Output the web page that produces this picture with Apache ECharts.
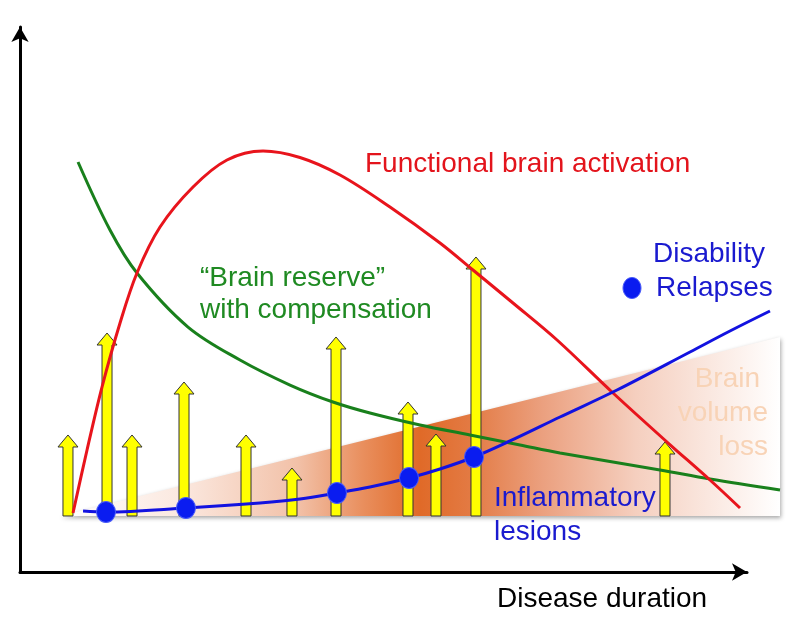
<!DOCTYPE html>
<html>
<head>
<meta charset="utf-8">
<style>
  html, body { margin: 0; padding: 0; background: #ffffff; }
  #chart { width: 786px; height: 617px; }
</style>
<script src="https://cdn.jsdelivr.net/npm/echarts@6/dist/echarts.min.js"></script>
</head>
<body>
<div id="chart"></div>
<script>
// ---- Data (conceptual units: x = disease duration 0..100, y = level 0..100) ----
const functionalActivation = [
  [7.29, 10.83], [9.22, 22.39], [11.28, 33.94], [13.76, 45.69], [16.09, 54.86],
  [19.26, 63.30], [23.80, 70.64], [28.47, 75.60], [33.43, 77.25], [38.51, 76.06],
  [44.02, 72.84], [50.89, 66.97], [57.77, 60.37], [62.31, 55.41], [67.81, 49.36],
  [73.87, 42.57], [81.57, 32.84], [89.00, 23.85], [94.91, 16.88], [99.04, 11.74]
];
const brainReserve = [
  [7.98, 75.23], [12.38, 62.75], [16.09, 54.86], [23.11, 44.95], [30.26, 38.90],
  [37.14, 34.31], [43.05, 31.19], [48.14, 29.17], [55.02, 26.97], [61.90, 25.14],
  [68.78, 23.30], [74.28, 21.83], [88.03, 18.72], [94.91, 17.06], [104.54, 15.05]
];
const disability = [
  [8.67, 11.19], [11.83, 11.01], [22.83, 11.74], [33.01, 12.66], [38.51, 13.39],
  [43.60, 14.50], [48.14, 15.60], [53.51, 17.25], [57.77, 18.90], [62.45, 21.10],
  [67.40, 24.04], [74.28, 28.44], [82.12, 33.39], [92.16, 40.37], [97.66, 44.22],
  [103.16, 47.89]
];
const relapses = [
  [11.83, 11.01], [22.83, 11.74], [43.60, 14.50], [53.51, 17.25], [62.45, 21.10]
];
const lesionBase = 10.28;
const lesionX   = [6.60, 11.97, 15.41, 22.56, 31.09, 37.41, 43.47, 53.37, 57.22, 62.72, 88.72];
const lesionTop = [25.14, 43.85, 25.14, 34.86, 25.14, 19.08, 43.12, 31.19, 25.32, 57.80, 23.85];
const volumeLossX = [5.50, 104.54, 104.54];
const volumeLossY = [10.28, 43.12, 10.28];

const FONT = '"Liberation Sans", Arial, Helvetica, sans-serif';

const chart = echarts.init(document.getElementById('chart'), null, { renderer: 'canvas' });

const lesionData = lesionX.map((x, i) => [x, lesionTop[i], lesionBase]);

// layout: axis grid spans x 0..100; the drawing grid uses the same scale but extends further right
const GRID_LEFT = 20, GRID_RIGHT = 39, GRID_TOP = 27, GRID_BOTTOM = 45;
const AXIS_W = 786 - GRID_LEFT - GRID_RIGHT;
const DRAW_MAX = 105;

function txt(text, x, y, color, align) {
  return {
    type: 'text', x: x, y: y, z: 100,
    style: {
      text: text, fill: color, font: '28px ' + FONT,
      textAlign: align || 'left', textVerticalAlign: 'middle'
    }
  };
}

const hiddenAxis = {
  show: false, type: 'value', min: 0,
  axisLine: { show: false }, axisTick: { show: false }, axisLabel: { show: false }, splitLine: { show: false }
};

const option = {
  animation: false,
  backgroundColor: '#ffffff',
  grid: [
    { left: GRID_LEFT, right: GRID_RIGHT, top: GRID_TOP, bottom: GRID_BOTTOM, containLabel: false },
    { left: GRID_LEFT, width: AXIS_W * DRAW_MAX / 100, top: GRID_TOP, bottom: GRID_BOTTOM, containLabel: false }
  ],
  xAxis: [
    {
      gridIndex: 0, type: 'value', min: 0, max: 100,
      axisLine: { show: true, symbol: ['none', 'arrow'], symbolSize: [13, 15],
                  lineStyle: { color: '#000', width: 3 } },
      axisTick: { show: false }, axisLabel: { show: false }, splitLine: { show: false }
    },
    Object.assign({}, hiddenAxis, { gridIndex: 1, max: DRAW_MAX })
  ],
  yAxis: [
    {
      gridIndex: 0, type: 'value', min: 0, max: 100,
      axisLine: { show: true, symbol: ['none', 'arrow'], symbolSize: [13, 15],
                  lineStyle: { color: '#000', width: 3 } },
      axisTick: { show: false }, axisLabel: { show: false }, splitLine: { show: false }
    },
    Object.assign({}, hiddenAxis, { gridIndex: 1, max: 100 })
  ],
  series: [
    {
      name: 'Brain volume loss', type: 'custom', z: 1, clip: false,
      xAxisIndex: 1, yAxisIndex: 1,
      data: [[0]],
      renderItem: function (params, api) {
        const pts = volumeLossX.map((x, i) => api.coord([x, volumeLossY[i]]));
        return {
          type: 'polygon',
          shape: { points: pts },
          style: {
            fill: new echarts.graphic.LinearGradient(0, 0, 1, 0, [
              { offset: 0.00, color: '#ffffff' },
              { offset: 0.17, color: '#fbe8df' },
              { offset: 0.33, color: '#f2c1a8' },
              { offset: 0.42, color: '#e98f5e' },
              { offset: 0.50, color: '#e06a28' },
              { offset: 0.57, color: '#e37a43' },
              { offset: 0.67, color: '#eba07f' },
              { offset: 0.80, color: '#f5cfbf' },
              { offset: 1.00, color: '#ffffff' }
            ]),
            shadowColor: 'rgba(0,0,0,0.35)', shadowBlur: 4, shadowOffsetX: 1, shadowOffsetY: 2
          }
        };
      }
    },
    {
      name: 'Inflammatory lesions', type: 'custom', z: 2, clip: false,
      xAxisIndex: 1, yAxisIndex: 1,
      data: lesionData,
      renderItem: function (params, api) {
        const pTop = api.coord([api.value(0), api.value(1)]);
        const pBase = api.coord([api.value(0), api.value(2)]);
        const cx = pTop[0], ty = pTop[1], by = pBase[1];
        const hw = 5, hh = 10, headH = 12;
        return {
          type: 'polygon',
          shape: { points: [
            [cx - hw, by], [cx - hw, ty + headH], [cx - hh, ty + headH], [cx, ty],
            [cx + hh, ty + headH], [cx + hw, ty + headH], [cx + hw, by]
          ] },
          style: { fill: '#ffff00', stroke: '#333333', lineWidth: 1 }
        };
      }
    },
    {
      name: 'Brain reserve', type: 'line', z: 3, clip: false, smooth: 0.35,
      xAxisIndex: 1, yAxisIndex: 1,
      data: brainReserve, showSymbol: false,
      lineStyle: { color: '#19801c', width: 3 }
    },
    {
      name: 'Functional brain activation', type: 'line', z: 3, clip: false, smooth: 0.35,
      xAxisIndex: 1, yAxisIndex: 1,
      data: functionalActivation, showSymbol: false,
      lineStyle: { color: '#e8141c', width: 3 }
    },
    {
      name: 'Disability', type: 'line', z: 4, clip: false, smooth: 0.35,
      xAxisIndex: 1, yAxisIndex: 1,
      data: disability, showSymbol: false,
      lineStyle: { color: '#1212e0', width: 3 }
    },
    {
      name: 'Relapses', type: 'scatter', z: 5, clip: false,
      xAxisIndex: 1, yAxisIndex: 1,
      data: relapses, symbol: 'circle', symbolSize: [19, 21],
      itemStyle: { color: '#0a1cf0', borderColor: '#4a5cf8', borderWidth: 1, opacity: 1 }
    }
  ],
  graphic: [
    txt('Functional brain activation', 365, 164, '#e3141c'),
    txt('\u201CBrain reserve\u201D', 200, 278, '#1f8a22'),
    txt('with compensation', 200, 310, '#1f8a22'),
    txt('Disability', 653, 254, '#1a1acf'),
    txt('Relapses', 656, 288, '#1a1acf'),
    { type: 'ellipse', z: 100, shape: { cx: 632, cy: 288, rx: 9, ry: 10.5 },
      style: { fill: '#0a1cf0', stroke: '#4a5cf8', lineWidth: 1 } },
    txt('Brain', 760, 379, '#f8d3b6', 'right'),
    txt('volume', 768, 413, '#f8d3b6', 'right'),
    txt('loss', 768, 447, '#f8d3b6', 'right'),
    txt('Inflammatory', 494, 498, '#1a1acf'),
    txt('lesions', 494, 532, '#1a1acf'),
    txt('Disease duration', 497, 599, '#000000')
  ]
};

chart.setOption(option);
</script>
</body>
</html>
